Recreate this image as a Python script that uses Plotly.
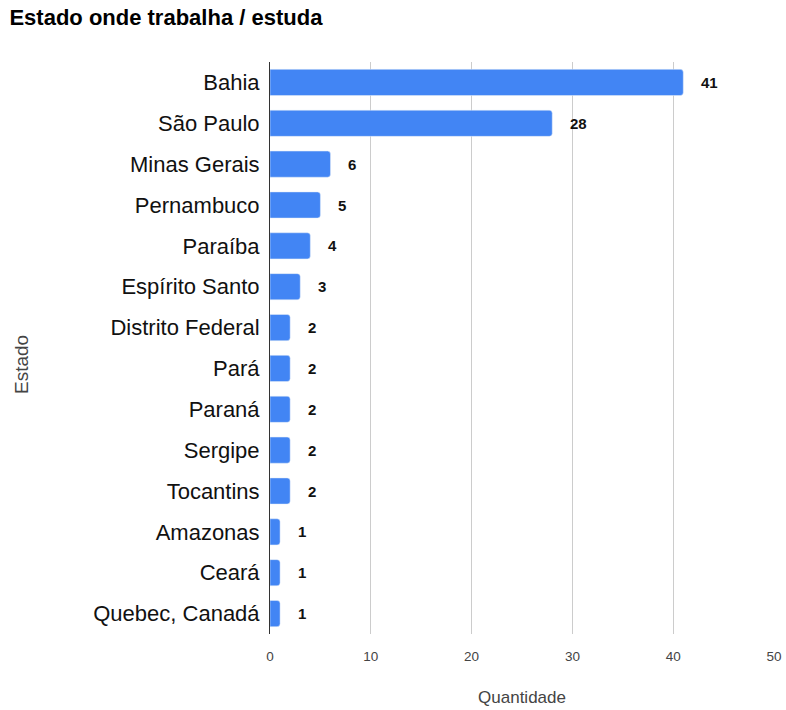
import plotly.graph_objects as go

estados = ["Bahia", "São Paulo", "Minas Gerais", "Pernambuco", "Paraíba",
           "Espírito Santo", "Distrito Federal", "Pará", "Paraná", "Sergipe",
           "Tocantins", "Amazonas", "Ceará", "Quebec, Canadá"]
quantidade = [41, 28, 6, 5, 4, 3, 2, 2, 2, 2, 2, 1, 1, 1]
x_ticks = [0, 10, 20, 30, 40, 50]

FONT = "Liberation Sans, Arial, sans-serif"
W, H = 786, 710
M_L, M_R, M_T, M_B = 270, 12, 62, 76

fig = go.Figure(go.Bar(
    x=quantidade,
    y=estados,
    orientation="h",
    marker=dict(color="#4285F4", cornerradius=3),
    hoverinfo="x+y",
))

# value labels placed just past each bar end
annotations = [
    dict(x=v, y=e, xref="x", yref="y", text=f"<b>{v}</b>", showarrow=False,
         xanchor="left", xshift=16, font=dict(family=FONT, size=15, color="#111"))
    for e, v in zip(estados, quantidade)
]

# vertical axis title, set in the left margin
plot_w = W - M_L - M_R
plot_h = H - M_T - M_B
annotations.append(dict(
    text="Estado", textangle=-90, showarrow=False,
    xref="paper", yref="paper",
    x=(21 - M_L) / plot_w, y=(H - M_B - 365) / plot_h,
    xanchor="center", yanchor="middle",
    font=dict(family=FONT, size=19, color="#444"),
))

fig.update_layout(
    width=W, height=H,
    margin=dict(l=M_L, r=M_R, t=M_T, b=M_B, autoexpand=False),
    paper_bgcolor="white", plot_bgcolor="white",
    bargap=0.36,
    showlegend=False,
    font=dict(family=FONT),
    title=dict(text="<b>Estado onde trabalha / estuda</b>", x=0.012, xanchor="left",
               y=0.975, yanchor="middle",
               font=dict(family=FONT, size=22, color="#000")),
    annotations=annotations,
    xaxis=dict(range=[0, 50], tickvals=x_ticks, showgrid=True, gridcolor="#cccccc",
               gridwidth=1, zeroline=False, showline=False, ticks="",
               ticklabelstandoff=12,
               tickfont=dict(size=13.5, color="#444"),
               title=dict(text="Quantidade", font=dict(size=17, color="#444"), standoff=28)),
    yaxis=dict(categoryorder="array", categoryarray=estados, autorange="reversed",
               showline=True, linecolor="#333", linewidth=1, ticks="",
               ticklabelstandoff=5,
               tickfont=dict(size=22, color="#111")),
)

fig.write_html("out.html")
